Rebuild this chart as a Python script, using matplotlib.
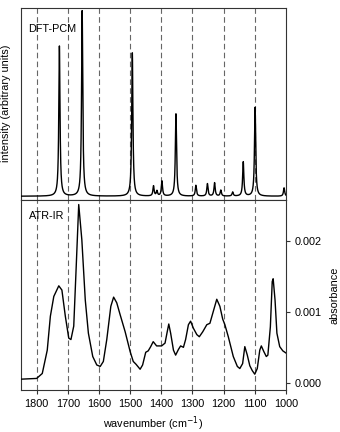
import numpy as np
import matplotlib
import matplotlib.pyplot as plt

matplotlib.rc('font', family='Liberation Sans', size=7.8)

# DFT-PCM computed bands: position [cm-1] and relative intensity
dft_pos = [1727, 1654, 1493, 1425, 1414, 1398, 1353, 1289, 1252, 1229,
           1209, 1171, 1137, 1099, 1006]
dft_int = [0.81, 1.0, 0.774, 0.054, 0.027, 0.081, 0.444, 0.058, 0.067, 0.072,
           0.032, 0.022, 0.185, 0.479, 0.045]

ir_wn = [1848, 1800, 1782, 1766, 1756, 1745, 1729, 1719, 1708, 1697, 1690,
         1681, 1673, 1665, 1655, 1644, 1634, 1620, 1607, 1596, 1586, 1575,
         1562, 1553, 1543, 1532, 1516, 1500, 1490, 1481, 1468, 1460, 1450,
         1442, 1434, 1426, 1415, 1399, 1388, 1381, 1376, 1370, 1361, 1354,
         1345, 1338, 1329, 1322, 1313, 1306, 1297, 1286, 1278, 1267, 1254,
         1244, 1233, 1222, 1212, 1203, 1196, 1185, 1169, 1156, 1148, 1139,
         1132, 1124, 1116, 1108, 1100, 1092, 1084, 1079, 1071, 1063, 1058,
         1050, 1044, 1041, 1035, 1029, 1020, 1010, 1000]
ir_abs = [0.00005, 0.00006, 0.00013, 0.00046, 0.00094, 0.00122, 0.00137,
          0.00131, 0.00094, 0.00063, 0.00061, 0.00080, 0.00165, 0.00252,
          0.00202, 0.00117, 0.00070, 0.00037, 0.00025, 0.00023, 0.00030,
          0.00061, 0.00108, 0.00121, 0.00113, 0.00096, 0.00072, 0.00044,
          0.00030, 0.00026, 0.00019, 0.00025, 0.00043, 0.00045, 0.00051,
          0.00058, 0.00052, 0.00052, 0.00056, 0.00072, 0.00083, 0.00070,
          0.00046, 0.00039, 0.00047, 0.00052, 0.00050, 0.00061, 0.00082,
          0.00087, 0.00077, 0.00068, 0.00065, 0.00072, 0.00082, 0.00084,
          0.00101, 0.00118, 0.00108, 0.00090, 0.00082, 0.00065, 0.00037,
          0.00023, 0.00020, 0.00027, 0.00051, 0.00039, 0.00024, 0.00017,
          0.00012, 0.00020, 0.00046, 0.00052, 0.00044, 0.00037, 0.00039,
          0.00079, 0.00143, 0.00147, 0.00117, 0.00070, 0.00051, 0.00045,
          0.00042]

grid_lines = [1800, 1700, 1600, 1500, 1400, 1300, 1200, 1100]
xticks = [1800, 1700, 1600, 1500, 1400, 1300, 1200, 1100, 1000]
yticks_ir = [0.000, 0.001, 0.002]

# Lorentzian broadening of the computed bands
hwhm = 2.3
wn = np.linspace(1850, 1000, 4000)
spec = np.zeros_like(wn)
for p, h in zip(dft_pos, dft_int):
    spec += h * hwhm**2 / ((wn - p)**2 + hwhm**2)

fig = plt.figure(figsize=(3.4, 4.32), dpi=100)
ax1 = fig.add_axes([0.062, 0.538, 0.779, 0.4435])
ax2 = fig.add_axes([0.062, 0.097, 0.779, 0.441])

for ax in (ax1, ax2):
    for g in grid_lines:
        ax.axvline(g, color='0.4', linestyle=(0, (5, 3)), linewidth=0.8, zorder=1)
    ax.set_xlim(1850, 1000)
    for s in ax.spines.values():
        s.set_linewidth(0.8)
        s.set_color('0.2')

ax1.plot(wn, spec, color='black', linewidth=1.0, zorder=3)
ax1.set_ylim(-0.018, 1.015)
ax1.set_xticks([])
ax1.set_yticks([])
ax1.text(0.028, 0.915, 'DFT-PCM', transform=ax1.transAxes, va='top', ha='left')
ax1.set_ylabel('intensity (arbitrary units)')
ax1.yaxis.set_label_coords(-0.038, 0.5)

ax2.plot(ir_wn, ir_abs, color='black', linewidth=1.0, zorder=3)
ax2.set_ylim(-0.000105, 0.00259)
ax2.set_xticks(xticks)
ax2.set_xticklabels([str(t) for t in xticks])
ax2.yaxis.tick_right()
ax2.yaxis.set_label_position('right')
ax2.set_yticks(yticks_ir)
ax2.set_yticklabels(['0.000', '0.001', '0.002'])
ax2.tick_params(direction='out', length=3, width=0.8, colors='0.2', labelcolor='black')
ax2.set_xlabel('wavenumber (cm$^{-1}$)', labelpad=4)
ax2.set_ylabel('absorbance', labelpad=5)
ax2.text(0.028, 0.94, 'ATR-IR', transform=ax2.transAxes, va='top', ha='left')

fig.savefig('out.png', dpi=100)
